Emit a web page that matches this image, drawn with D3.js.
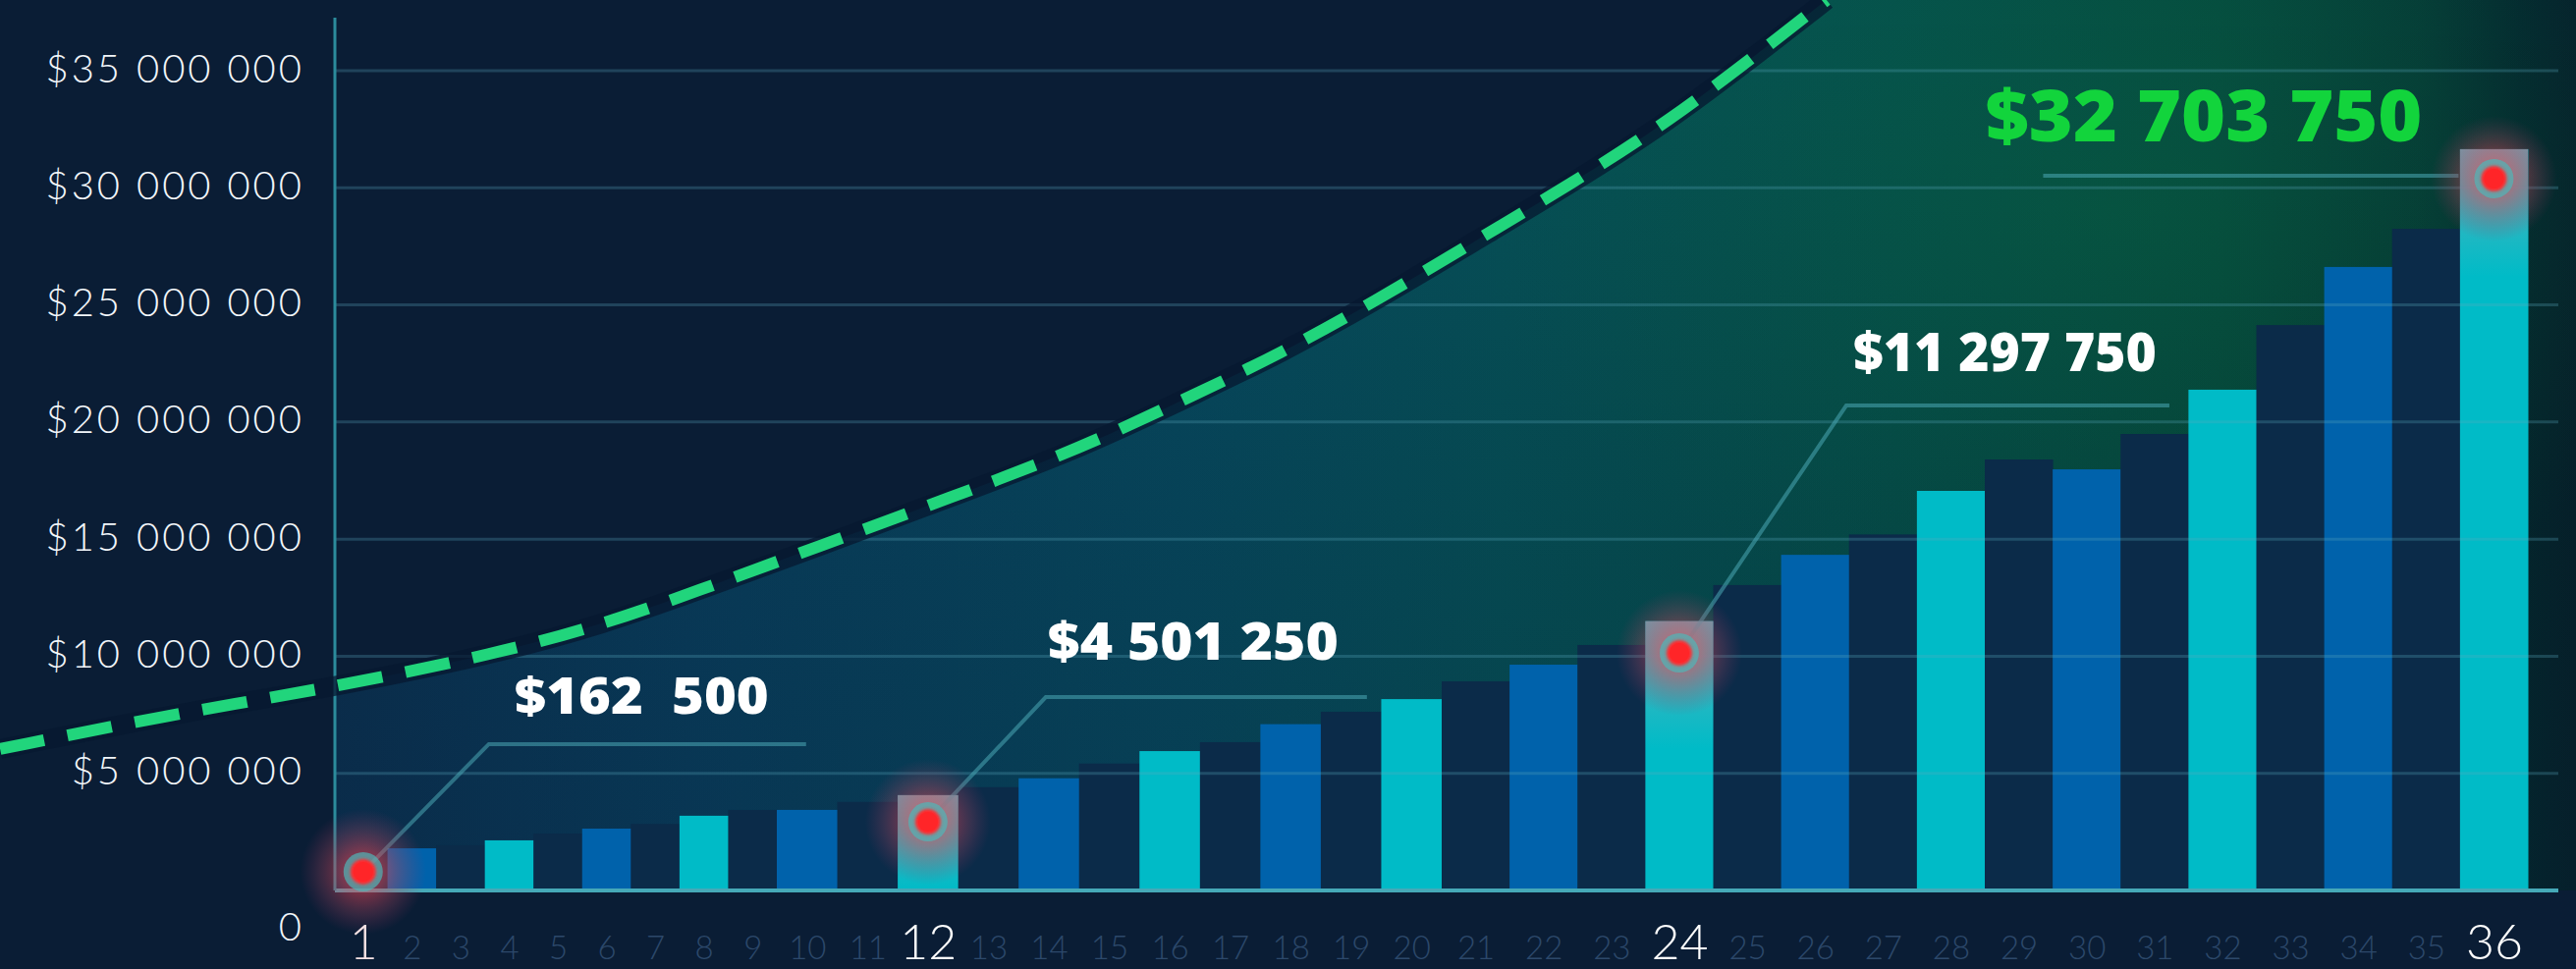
<!DOCTYPE html>
<html><head><meta charset="utf-8">
<script src="https://cdn.jsdelivr.net/npm/d3@7"></script>
<style>
html,body{margin:0;padding:0;background:#0a1d35;overflow:hidden}
svg{display:block}
text{white-space:pre}
</style></head><body>
<svg id="chart" width="2623" height="987"></svg>
<script>
// ---------------- DATA ----------------
const months = [1,2,3,4,5,6,7,8,9,10,11,12,13,14,15,16,17,18,19,20,21,22,23,24,25,26,27,28,29,30,31,32,33,34,35,36];
const xTickLabels = ["1","2","3","4","5","6","7","8","9","10","11","12","13","14","15","16","17","18","19","20","21","22","23","24","25","26","27","28","29","30","31","32","33","34","35","36"];
const barValues = [1600000,1800000,1930000,2140000,2430000,2640000,2840000,3190000,3440000,3440000,
  3780000,4070000,4410000,4790000,5420000,5950000,6330000,7100000,7630000,8170000,
  8930000,9640000,10480000,11500000,13040000,14330000,15200000,17060000,18400000,17980000,
  19490000,21380000,24140000,26620000,28250000,31650000];
const majorMonths = [1,12,24,36];
const pointMonths = [1,12,24,36];
const pointValues = [800000,2930000,10140000,30390000];
const pointLabels = ["$162  500","$4 501 250","$11 297 750","$32 703 750"];
const curveMonths = [-6.46,-3.09,0.40,3.73,5.99,7.80,10.18,12.36,14.52,16.47,17.77,19.40,20.96,22.41,23.86,25.30,26.17];
const curveValues = [6040000,7460000,8680000,10100000,11400000,12740000,14670000,16770000,18860000,21250000,22840000,25150000,27670000,30180000,32860000,36050000,38020000];
const yTickValues = [0,5000000,10000000,15000000,20000000,25000000,30000000,35000000];
const yTickLabels = ["0","$5 000 000","$10 000 000","$15 000 000","$20 000 000","$25 000 000","$30 000 000","$35 000 000"];

// ---------------- LAYOUT ----------------
const W = 2623, H = 987;
const baseY = 907, axisX = 341, gridEnd = 2605;
const x = d3.scaleLinear().domain([0.5, 9.5, 20.5, 36.5]).range([345, 791, 1468, 2574]);
const y = d3.scaleLinear().domain([0, 35000000]).range([baseY, 72]);

const COL_CYAN = "#00bbc7", COL_BLUE = "#0062ab", COL_DARK = "#0b2b49";
const barColor = m => (m % 4 === 0 ? COL_CYAN : (m % 4 === 2 ? COL_BLUE : COL_DARK));

const annotLayout = [
  {path:[[0,0],[128,-130],[451,-130]], tx:154, ty:-161, size:52, width:259, color:"#ffffff"},
  {path:[[0,0],[120,-127],[447,-127]], tx:122, ty:-165, size:53, width:296, color:"#ffffff"},
  {path:[[0,0],[170,-252],[499,-252]], tx:177, ty:-287, size:54, width:309, color:"#ffffff"},
  {path:[[-459,-3],[-36,-3]],           tx:-518, ty:-38, size:72, width:445, color:"#12d43c"}
];

const svg = d3.select("#chart");
const defs = svg.append("defs");

// gradients
const areaGrad = defs.append("linearGradient").attr("id","areaGrad")
  .attr("gradientUnits","userSpaceOnUse").attr("x1",axisX).attr("x2",W).attr("y1",0).attr("y2",0);
[[0,"#0b3253"],[0.16,"#093f5f"],[0.38,"#074a60"],[0.52,"#065159"],[0.70,"#054f4b"],
 [0.84,"#05493e"],[0.93,"#053a36"],[0.975,"#04292f"],[1,"#06222c"]]
 .forEach(s=>areaGrad.append("stop").attr("offset",s[0]).attr("stop-color",s[1]));

const vShade = defs.append("linearGradient").attr("id","vShade")
  .attr("gradientUnits","userSpaceOnUse").attr("x1",0).attr("x2",0).attr("y1",0).attr("y2",baseY);
vShade.append("stop").attr("offset",0).attr("stop-color","#000").attr("stop-opacity",0);
vShade.append("stop").attr("offset",1).attr("stop-color","#06152a").attr("stop-opacity",0.22);

const greenGlow = defs.append("radialGradient").attr("id","greenGlow");
greenGlow.append("stop").attr("offset",0).attr("stop-color","#0a7a48").attr("stop-opacity",0.26);
greenGlow.append("stop").attr("offset",1).attr("stop-color","#0a7a48").attr("stop-opacity",0);

const redGlow = defs.append("radialGradient").attr("id","redGlow");
[[0,"#ff3a4a",0.7],[0.35,"#e04555",0.5],[0.7,"#b04560",0.25],[1,"#a03060",0]]
 .forEach(s=>redGlow.append("stop").attr("offset",s[0]).attr("stop-color",s[1]).attr("stop-opacity",s[2]));

const hiGrad = defs.append("linearGradient").attr("id","hiGrad").attr("x1",0).attr("x2",0).attr("y1",0).attr("y2",1);
hiGrad.append("stop").attr("offset",0).attr("stop-color","#b09aa8").attr("stop-opacity",0.62);
hiGrad.append("stop").attr("offset",0.55).attr("stop-color","#90a8b0").attr("stop-opacity",0.3);
hiGrad.append("stop").attr("offset",1).attr("stop-color","#80b0b8").attr("stop-opacity",0);

const blur4 = defs.append("filter").attr("id","blur4").attr("x","-50%").attr("y","-50%").attr("width","200%").attr("height","200%");
blur4.append("feGaussianBlur").attr("stdDeviation",4);
const blur2 = defs.append("filter").attr("id","blur2").attr("x","-50%").attr("y","-50%").attr("width","200%").attr("height","200%");
blur2.append("feGaussianBlur").attr("stdDeviation",1.6);

// background
svg.append("rect").attr("width",W).attr("height",H).attr("fill","#0a1d35");

// area under curve (the curve leaves the top of the picture; the region to its right is filled up to the top)
const curveData = curveMonths.map((m,i)=>({m, v:curveValues[i]}));
const lastX = x(curveMonths[curveMonths.length-1]);
const area = d3.area().x(d=>x(d.m)).y0(baseY).y1(d=>y(d.v)).curve(d3.curveBasis);
const line = d3.line().x(d=>x(d.m)).y(d=>y(d.v)).curve(d3.curveBasis);

const clip = defs.append("clipPath").attr("id","areaClip");
clip.append("path").datum(curveData).attr("d",area);
clip.append("rect").attr("x",lastX-2).attr("y",-50).attr("width",W-lastX+2).attr("height",baseY+50);
defs.append("clipPath").attr("id","plotClip").append("rect")
  .attr("x",axisX).attr("y",0).attr("width",W-axisX).attr("height",baseY);

const plot = svg.append("g").attr("clip-path","url(#plotClip)")
  .append("g").attr("clip-path","url(#areaClip)");
plot.append("rect").attr("x",axisX).attr("y",0).attr("width",W-axisX).attr("height",baseY).attr("fill","url(#areaGrad)");
plot.append("ellipse").attr("cx",2150).attr("cy",220).attr("rx",650).attr("ry",420).attr("fill","url(#greenGlow)");
plot.append("rect").attr("x",axisX).attr("y",0).attr("width",W-axisX).attr("height",baseY).attr("fill","url(#vShade)");

// bars
const bars = months.map((m,i)=>({m, v:barValues[i]}));
svg.append("g").selectAll("rect").data(bars).join("rect")
  .attr("x",d=>x(d.m-0.5)).attr("width",d=>x(d.m+0.5)-x(d.m-0.5)+0.5)
  .attr("y",d=>y(d.v)).attr("height",d=>baseY-y(d.v))
  .attr("fill",d=>barColor(d.m));
// highlight sheen on annotated bars
svg.append("g").selectAll("rect").data(bars.filter(d=>majorMonths.includes(d.m) && d.m>1)).join("rect")
  .attr("x",d=>x(d.m-0.5)).attr("width",d=>x(d.m+0.5)-x(d.m-0.5))
  .attr("y",d=>y(d.v)).attr("height",d=>Math.min(130, baseY-y(d.v)))
  .attr("fill","url(#hiGrad)");

// gridlines
svg.append("g").selectAll("line").data(yTickValues.filter(v=>v>0)).join("line")
  .attr("x1",axisX).attr("x2",gridEnd).attr("y1",d=>y(d)).attr("y2",d=>y(d))
  .attr("stroke","#5aa8c0").attr("stroke-opacity",0.28).attr("stroke-width",3);

// axis lines
svg.append("line").attr("x1",axisX).attr("x2",gridEnd).attr("y1",baseY).attr("y2",baseY)
  .attr("stroke","#3fb0c0").attr("stroke-width",8).attr("opacity",0.45).attr("filter","url(#blur4)");
svg.append("line").attr("x1",axisX).attr("x2",gridEnd).attr("y1",baseY).attr("y2",baseY)
  .attr("stroke","#46a9b8").attr("stroke-width",4);
svg.append("line").attr("x1",axisX).attr("x2",axisX).attr("y1",18).attr("y2",baseY)
  .attr("stroke","#2f95a5").attr("stroke-width",6).attr("opacity",0.35).attr("filter","url(#blur4)");
svg.append("line").attr("x1",axisX).attr("x2",axisX).attr("y1",18).attr("y2",baseY)
  .attr("stroke","#2b8c9c").attr("stroke-width",3);

// dashed curve
svg.append("path").datum(curveData).attr("d",line).attr("fill","none")
  .attr("stroke","#071830").attr("stroke-opacity",0.75).attr("stroke-width",20);
svg.append("path").datum(curveData).attr("d",line).attr("fill","none")
  .attr("stroke","#21d57c").attr("stroke-width",12).attr("stroke-dasharray","46,24");

// leader lines
const points = pointMonths.map((m,i)=>({m, v:pointValues[i], label:pointLabels[i], L:annotLayout[i]}));
const lead = d3.line();
svg.append("g").selectAll("path").data(points).join("path")
  .attr("d",d=>lead(d.L.path.map(p=>[x(d.m)+p[0], y(d.v)+p[1]])))
  .attr("fill","none").attr("stroke","#4aa8b4").attr("stroke-opacity",0.55).attr("stroke-width",4);

// markers
const mk = svg.append("g").selectAll("g").data(points).join("g")
  .attr("transform",d=>`translate(${x(d.m)},${y(d.v)})`);
mk.append("circle").attr("r",64).attr("fill","url(#redGlow)");
mk.append("circle").attr("r",20).attr("fill","#4fb6b8").attr("opacity",0.7);
mk.append("circle").attr("r",13).attr("fill","#ff2a2e").attr("filter","url(#blur2)");
mk.append("circle").attr("r",10).attr("fill","#ff2528");

// annotation labels
svg.append("g").selectAll("text").data(points).join("text")
  .attr("x",d=>x(d.m)+d.L.tx).attr("y",d=>y(d.v)+d.L.ty)
  .attr("font-family","'Open Sans', Lato, sans-serif").attr("font-weight",800)
  .attr("font-size",d=>d.L.size).attr("fill",d=>d.L.color)
  .attr("textLength",d=>d.L.width).attr("lengthAdjust","spacingAndGlyphs")
  .text(d=>d.label);

// y axis labels
const yAxis = d3.axisLeft(y).tickValues(yTickValues).tickFormat((d,i)=>yTickLabels[i]).tickSize(0).tickPadding(31);
const gy = svg.append("g").attr("transform",`translate(${axisX},0)`).call(yAxis);
gy.select(".domain").remove();
gy.selectAll("text").attr("font-family","Lato, 'Open Sans', sans-serif").attr("font-weight",300)
  .attr("font-size",40).attr("letter-spacing",3).attr("fill","#f2f6fa")
  .attr("dy",d=>d===0 ? "50px" : "11px");

// x axis labels
const xAxis = d3.axisBottom(x).tickValues(months).tickFormat((d,i)=>xTickLabels[i]).tickSize(0);
const gx = svg.append("g").attr("transform",`translate(0,${baseY})`).call(xAxis);
gx.select(".domain").remove();
gx.selectAll("text").attr("y",70).attr("dy",0)
  .attr("font-family","Lato, 'Open Sans', sans-serif").attr("font-weight",300)
  .attr("font-size",d=>majorMonths.includes(d)?50:33)
  .attr("fill",d=>d===1?"#f6e2e4":(majorMonths.includes(d)?"#ffffff":"#2c486a"));
</script>
</body></html>
